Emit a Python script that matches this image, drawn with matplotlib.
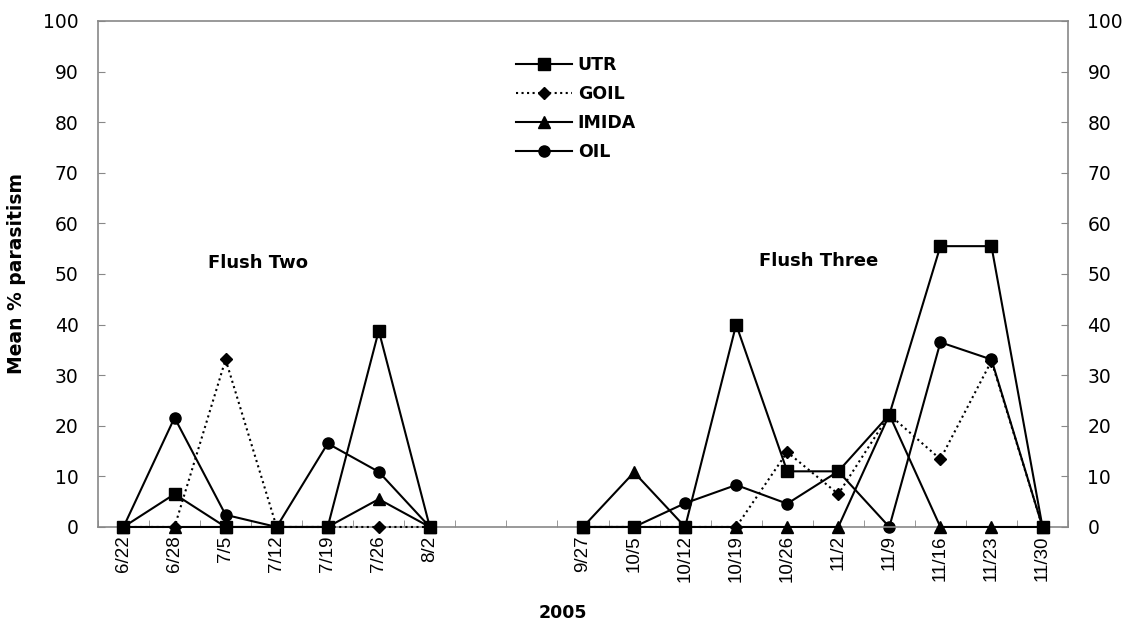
import numpy as np
import matplotlib
matplotlib.use("Agg")
import matplotlib.pyplot as plt
from matplotlib.ticker import FixedLocator

plt.rcParams["font.family"] = ["Liberation Sans", "DejaVu Sans"]
WIDE = ["DejaVu Sans"]

# sampling dates, two flushes with a gap of two empty slots between them
flush_two_dates = ["6/22", "6/28", "7/5", "7/12", "7/19", "7/26", "8/2"]
flush_three_dates = ["9/27", "10/5", "10/12", "10/19", "10/26", "11/2", "11/9", "11/16", "11/23", "11/30"]
gap_slots = 2

# mean % parasitism per treatment
utr_two = [0, 6.5, 0, 0, 0, 38.8, 0]
utr_three = [0, 0, 0, 40, 11, 11, 22.2, 55.5, 55.5, 0]
goil_two = [0, 0, 33.1, 0, 0, 0, 0]
goil_three = [0, 0, 0, 0, 14.8, 6.5, 22.2, 13.4, 32.8, 0]
imida_two = [0, 0, 0, 0, 0, 5.5, 0]
imida_three = [0, 10.8, 0, 0, 0, 0, 22.2, 0, 0, 0]
oil_two = [0, 21.6, 2.4, 0, 16.5, 10.9, 0]
oil_three = [0, 0, 4.7, 8.3, 4.6, 11, 0, 36.5, 33.1, 0]


def join(a, b):
    return np.array(list(a) + [np.nan] * gap_slots + list(b), dtype=float)


labels = flush_two_dates + [""] * gap_slots + flush_three_dates
x = np.arange(len(labels))

fig = plt.figure(figsize=(11.22, 6.21), dpi=100)
ax = fig.add_axes([0.0873, 0.1514, 0.8646, 0.8148])

series = [
    ("OIL", join(oil_two, oil_three), "-", "o", 8, 2),
    ("GOIL", join(goil_two, goil_three), ":", "D", 6, 3),
    ("IMIDA", join(imida_two, imida_three), "-", "^", 8, 4),
    ("UTR", join(utr_two, utr_three), "-", "s", 8, 5),
]
handles = {}
for name, y, ls, mk, ms, z in series:
    ln, = ax.plot(x, y, linestyle=ls, marker=mk, markersize=ms, color="black",
                  linewidth=1.5, clip_on=False, zorder=z, label=name)
    handles[name] = ln

ax.set_xlim(-0.5, len(labels) - 0.5)
ax.set_ylim(0, 100)
ax.set_yticks(np.arange(0, 101, 10))
ax.set_xticks(x)
ax.set_xticklabels(labels, rotation=90, fontsize=13.5)
ax.xaxis.set_minor_locator(FixedLocator(np.arange(-0.5, len(labels), 1.0)))
ax.tick_params(axis="x", which="major", length=0, pad=6)
ax.tick_params(axis="x", which="minor", direction="in", length=5, color="#888888")
ax.tick_params(axis="y", direction="in", length=5, color="#888888",
               left=True, right=True, labelleft=True, labelright=True, pad=14)
for lbl in ax.get_yticklabels(which="both"):
    lbl.set_family(WIDE)
    lbl.set_fontsize(13.5)
for s in ax.spines.values():
    s.set_color("#888888")
    s.set_linewidth(1.2)

ax.set_ylabel("Mean % parasitism", fontsize=13.5, fontweight="bold", family=WIDE)
ax.yaxis.set_label_coords(-0.074, 0.5)
ax.set_xlabel("2005", fontsize=12.5, fontweight="bold", family=WIDE)
ax.xaxis.set_label_coords(0.479, -0.152)

ax.text(2.63, 52.2, "Flush Two", fontsize=13, fontweight="bold", family=WIDE,
        ha="center", va="center")
ax.text(13.62, 52.6, "Flush Three", fontsize=13, fontweight="bold", family=WIDE,
        ha="center", va="center")

order = ["UTR", "GOIL", "IMIDA", "OIL"]
leg = ax.legend([handles[n] for n in order], order, loc="upper left",
                bbox_to_anchor=(0.415, 0.962), frameon=False, handlelength=3.2,
                labelspacing=0.64, handletextpad=0.35,
                prop={"family": WIDE, "weight": "bold", "size": 12.5})

fig.savefig("out.png", dpi=100)
